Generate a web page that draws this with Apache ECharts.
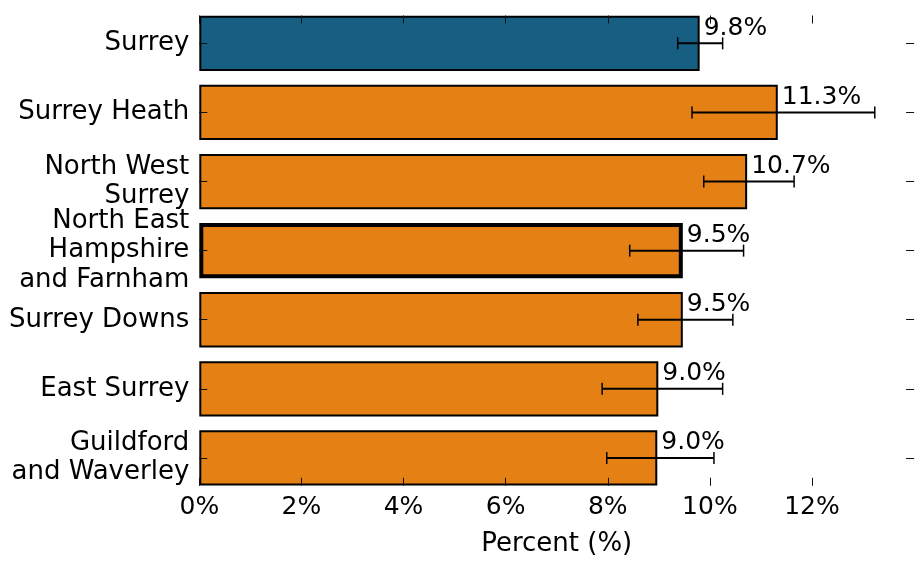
<!DOCTYPE html>
<html>
<head>
<meta charset="utf-8">
<script src="https://cdn.jsdelivr.net/npm/echarts@6/dist/echarts.min.js"></script>
<style>
html,body{margin:0;padding:0;background:#fff;}
#chart{width:921px;height:573px;}
</style>
</head>
<body>
<div id="chart"></div>
<script>
// ---- data ----
const categories = ['Surrey', 'Surrey Heath', 'North West\nSurrey', 'North East\nHampshire\nand Farnham', 'Surrey Downs', 'East Surrey', 'Guildford\nand Waverley'];
const values = [9.80, 11.33, 10.73, 9.47, 9.47, 8.99, 8.97];
const lower  = [9.37, 9.65, 9.88, 8.43, 8.59, 7.89, 7.98];
const upper  = [10.25, 13.23, 11.65, 10.66, 10.45, 10.25, 10.08];
const xTicks = [0, 2, 4, 6, 8, 10, 12];
const axisName = 'Percent (%)';

// ---- style ----
const BLUE = '#175f82';
const ORANGE = '#e58114';
const FONT = 'DejaVu Sans';
const highlightIndex = 0;   // Surrey (blue)
const boldEdgeIndex = 3;    // North East Hampshire and Farnham

const chart = echarts.init(document.getElementById('chart'));

const pitch = 69.1;
const half = pitch * 0.1 - 0.2;

const tickStyle = {show: true, inside: true, length: 8, lineStyle: {color: '#111', width: 1}};

const option = {
  animation: false,
  backgroundColor: '#fff',
  grid: {left: 199.3, right: 6.9, top: 8.8, bottom: 573 - 8.8 - pitch * 7},
  xAxis: [
    {
      type: 'value', position: 'bottom', min: 0, max: 14, interval: 2, z: 5,
      offset: -half,
      axisLine: {show: false, onZero: false},
      axisTick: Object.assign({customValues: xTicks}, tickStyle),
      splitLine: {show: false},
      axisLabel: {customValues: xTicks, formatter: v => v + '%', fontSize: 25, fontFamily: FONT, color: '#000', margin: 9},
      name: axisName, nameLocation: 'middle', nameGap: 45,
      nameTextStyle: {fontSize: 26, fontFamily: FONT, color: '#000'}
    },
    {
      type: 'value', position: 'top', min: 0, max: 14, interval: 2, z: 5,
      offset: -half,
      axisLine: {show: false, onZero: false},
      axisTick: Object.assign({customValues: xTicks}, tickStyle),
      splitLine: {show: false},
      axisLabel: {show: false}
    }
  ],
  yAxis: [
    {
      type: 'category', data: categories, inverse: true, position: 'left', z: 5,
      axisLine: {show: false, onZero: false},
      axisTick: Object.assign({alignWithLabel: true}, tickStyle),
      axisLabel: {fontSize: 26, fontFamily: FONT, color: '#000', margin: 10, lineHeight: 29.5, align: 'right'}
    },
    {
      type: 'category', data: categories, inverse: true, position: 'right', z: 5,
      axisLine: {show: false, onZero: false},
      axisTick: Object.assign({alignWithLabel: true}, tickStyle),
      axisLabel: {show: false}
    }
  ],
  series: [
    {
      type: 'bar',
      xAxisIndex: 0, yAxisIndex: 0,
      barWidth: '80%',
      z: 2,
      data: values.map((v, i) => ({
        value: v,
        itemStyle: {
          color: i === highlightIndex ? BLUE : ORANGE,
          borderColor: '#000',
          borderWidth: i === boldEdgeIndex ? 4 : 2
        }
      })),
      label: {
        show: true, position: 'right', distance: 4, offset: [0, -15],
        formatter: p => p.value.toFixed(1) + '%',
        fontSize: 25, fontFamily: FONT, color: '#000'
      }
    },
    {
      type: 'custom',
      xAxisIndex: 0, yAxisIndex: 0,
      z: 3,
      encode: {x: [0, 1], y: 2},
      data: lower.map((l, i) => [l, upper[i], i]),
      renderItem: function (params, api) {
        const p0 = api.coord([api.value(0), api.value(2)]);
        const p1 = api.coord([api.value(1), api.value(2)]);
        const cap = 6;
        const ls = {stroke: '#000', lineWidth: 2};
        const cs = {stroke: '#000', lineWidth: 1.5};
        return {
          type: 'group',
          children: [
            {type: 'line', shape: {x1: p0[0], y1: p0[1], x2: p1[0], y2: p1[1]}, style: ls},
            {type: 'line', shape: {x1: p0[0], y1: p0[1] - cap, x2: p0[0], y2: p0[1] + cap}, style: cs},
            {type: 'line', shape: {x1: p1[0], y1: p1[1] - cap, x2: p1[0], y2: p1[1] + cap}, style: cs}
          ]
        };
      }
    }
  ]
};
chart.setOption(option);
</script>
</body>
</html>
